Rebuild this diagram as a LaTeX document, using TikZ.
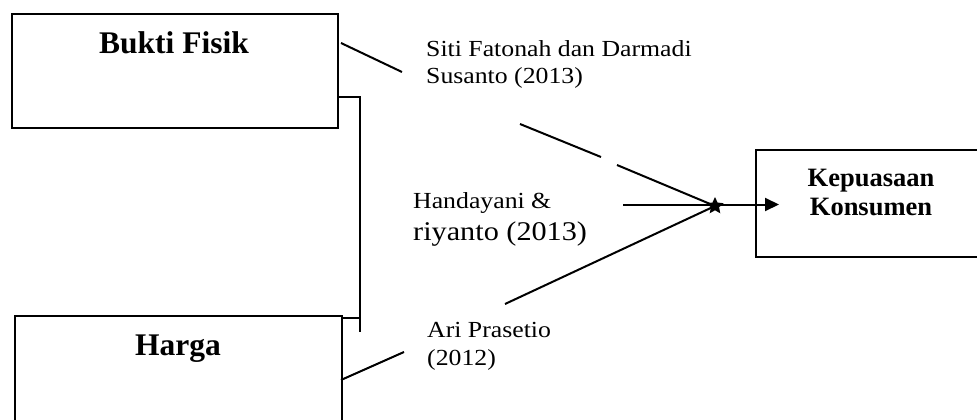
\documentclass[tikz,border=0pt]{standalone}
\usepackage{fontspec}
\setmainfont{Liberation Serif}
\newfontfamily\citefont{Liberation Serif}[FakeStretch=1.12]
\usetikzlibrary{shapes.geometric,arrows.meta}
\begin{document}
\begin{tikzpicture}[x=1pt,y=-1pt,
  box/.style={draw,line width=2pt,rectangle,anchor=north west,inner sep=0pt},
  var/.style={font=\fontsize{31.5}{36}\selectfont\bfseries,anchor=base},
  outcome/.style={font=\fontsize{26.5}{30}\selectfont\bfseries,anchor=base},
  ref/.style={font=\citefont\fontsize{23}{27}\selectfont,anchor=base west,inner sep=0pt},
  link/.style={line width=2pt},
  joint/.style={line width=1.3pt}]
\useasboundingbox (0,0) rectangle (977,420);
\clip (0,0) rectangle (977,420);

% variable boxes
\node[box,minimum width=326pt,minimum height=114pt] (bf) at (11,13) {};
\node[var] (bft) at (174,54) {Bukti Fisik};
\node[box,minimum width=327pt,minimum height=130pt] (hg) at (14,315) {};
\node[var] (hgt) at (178,355) {Harga};
\node[box,minimum width=250pt,minimum height=107pt] (kk) at (755,149) {};
\node[outcome] (kkt1) at (871,186) {Kepuasaan};
\node[outcome] (kkt2) at (871,215) {Konsumen};

% citations
\node[ref] (r1a) at (426,57) {Siti Fatonah dan Darmadi};
\node[ref] (r1b) at (426,84) {Susanto (2013)};
\node[ref] (r2a) at (413,208) {Handayani \&};
\node[ref,font=\citefont\fontsize{27}{31}\selectfont] (r2b) at (413,240) {riyanto (2013)};
\node[ref] (r3a) at (427,337) {Ari Prasetio};
\node[ref] (r3b) at (427,365) {(2012)};

% meeting point
\node[star,star points=5,star point ratio=2.1,fill=black,minimum size=18pt,inner sep=0pt] (hub) at (715,206) {};

% bracket joining the two independent variables
\coordinate (j1) at (337,97);
\coordinate (j2) at (360,332);
\coordinate (j3) at (341,318);
\coordinate (j4) at (360,318);
\draw[joint] (j1) -| (j2);
\draw[joint] (j3) -- (j4);

% connectors
\coordinate (a1) at (341,43);
\coordinate (a2) at (402,72);
\draw[link] (a1) -- (a2);
\coordinate (b1) at (520,124);
\coordinate (b2) at (601,157);
\coordinate (b3) at (617,165);
\draw[link] (b1) -- (b2);
\draw[link] (b3) -- (hub.center);
\coordinate (c1) at (505,304);
\draw[link] (c1) -- (hub.center);
\coordinate (d1) at (341,380);
\coordinate (d2) at (404,352);
\draw[link] (d1) -- (d2);
\coordinate (e1) at (623,204.5);
\coordinate (e2) at (779,204.5);
\draw[link,-{Triangle[length=14pt,width=13pt]}] (e1) -- (e2);
\end{tikzpicture}
\end{document}
